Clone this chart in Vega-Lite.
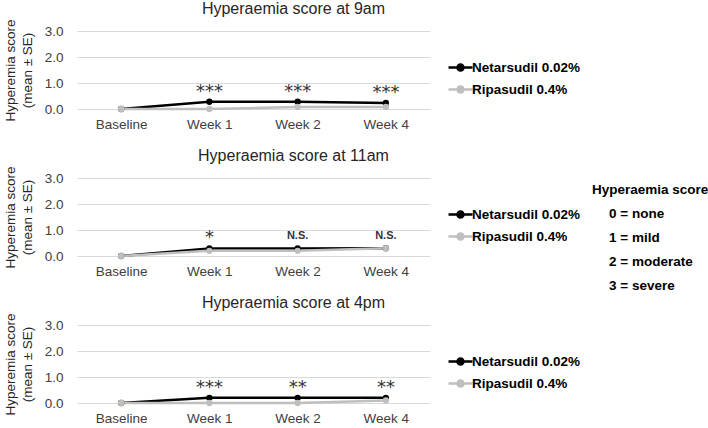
{
  "$schema": "https://vega.github.io/schema/vega-lite/v6.json",
  "padding": {"left": 3, "top": 0, "right": 0, "bottom": 0},
  "background": "white",
  "config": {
    "font": "Liberation Sans",
    "view": {"stroke": null},
    "axis": {"labelFont": "Liberation Sans", "titleFont": "Liberation Sans"},
    "legend": {"labelFont": "Liberation Sans"},
    "title": {"font": "Liberation Sans"}
  },
  "datasets": {
    "scores": [
      {"time": "9am", "visit": "Baseline", "drug": "Netarsudil 0.02%", "score": 0.0, "sig": null},
      {"time": "9am", "visit": "Week 1", "drug": "Netarsudil 0.02%", "score": 0.28, "sig": "***"},
      {"time": "9am", "visit": "Week 2", "drug": "Netarsudil 0.02%", "score": 0.28, "sig": "***"},
      {"time": "9am", "visit": "Week 4", "drug": "Netarsudil 0.02%", "score": 0.23, "sig": "***"},
      {"time": "9am", "visit": "Baseline", "drug": "Ripasudil 0.4%", "score": 0.0, "sig": null},
      {"time": "9am", "visit": "Week 1", "drug": "Ripasudil 0.4%", "score": 0.0, "sig": null},
      {"time": "9am", "visit": "Week 2", "drug": "Ripasudil 0.4%", "score": 0.08, "sig": null},
      {"time": "9am", "visit": "Week 4", "drug": "Ripasudil 0.4%", "score": 0.08, "sig": null},
      {"time": "11am", "visit": "Baseline", "drug": "Netarsudil 0.02%", "score": 0.0, "sig": null},
      {"time": "11am", "visit": "Week 1", "drug": "Netarsudil 0.02%", "score": 0.29, "sig": "*"},
      {"time": "11am", "visit": "Week 2", "drug": "Netarsudil 0.02%", "score": 0.29, "sig": "N.S."},
      {"time": "11am", "visit": "Week 4", "drug": "Netarsudil 0.02%", "score": 0.3, "sig": "N.S."},
      {"time": "11am", "visit": "Baseline", "drug": "Ripasudil 0.4%", "score": 0.0, "sig": null},
      {"time": "11am", "visit": "Week 1", "drug": "Ripasudil 0.4%", "score": 0.2, "sig": null},
      {"time": "11am", "visit": "Week 2", "drug": "Ripasudil 0.4%", "score": 0.2, "sig": null},
      {"time": "11am", "visit": "Week 4", "drug": "Ripasudil 0.4%", "score": 0.3, "sig": null},
      {"time": "4pm", "visit": "Baseline", "drug": "Netarsudil 0.02%", "score": 0.0, "sig": null},
      {"time": "4pm", "visit": "Week 1", "drug": "Netarsudil 0.02%", "score": 0.2, "sig": "***"},
      {"time": "4pm", "visit": "Week 2", "drug": "Netarsudil 0.02%", "score": 0.2, "sig": "**"},
      {"time": "4pm", "visit": "Week 4", "drug": "Netarsudil 0.02%", "score": 0.2, "sig": "**"},
      {"time": "4pm", "visit": "Baseline", "drug": "Ripasudil 0.4%", "score": 0.0, "sig": null},
      {"time": "4pm", "visit": "Week 1", "drug": "Ripasudil 0.4%", "score": 0.0, "sig": null},
      {"time": "4pm", "visit": "Week 2", "drug": "Ripasudil 0.4%", "score": 0.0, "sig": null},
      {"time": "4pm", "visit": "Week 4", "drug": "Ripasudil 0.4%", "score": 0.1, "sig": null}
    ],
    "key": [
      {"row": 0, "text": "Hyperaemia score"},
      {"row": 1, "text": "0 = none"},
      {"row": 2, "text": "1 = mild"},
      {"row": 3, "text": "2 = moderate"},
      {"row": 4, "text": "3 = severe"}
    ]
  },
  "hconcat": [
    {
      "vconcat": [
        {
          "title": {"text": "Hyperaemia score at 9am", "fontSize": 16, "fontWeight": "normal", "color": "#262626", "dx": 40, "dy": -2, "offset": 0},
          "width": 353, "height": 78,
          "data": {"name": "scores"},
          "transform": [{"filter": "datum.time == '9am'"}],
          "encoding": {
            "x": {"field": "visit", "type": "ordinal", "sort": ["Baseline", "Week 1", "Week 2", "Week 4"], "title": null,
                  "axis": {"labelAngle": 0, "domain": false, "ticks": false, "labelPadding": 8, "labelFontSize": 13.5, "labelColor": "#404040"}},
            "y": {"field": "score", "type": "quantitative", "scale": {"domain": [0, 3], "nice": false},
                  "title": ["Hyperemia score", "(mean ± SE)"],
                  "axis": {"values": [0, 1, 2, 3], "format": ".1f", "domain": false, "ticks": false, "gridColor": "#d9d9d9", "labelPadding": 14, "labelFontSize": 13.5, "labelColor": "#404040", "titleFontSize": 13.5, "titleFontWeight": "normal", "titleColor": "#262626", "titleLineHeight": 17, "titlePadding": 10}},
            "color": {"field": "drug", "type": "nominal", "title": null,
                      "scale": {"domain": ["Netarsudil 0.02%", "Ripasudil 0.4%"], "range": ["#000000", "#bfbfbf"]},
                      "legend": {"orient": "none", "legendX": 374, "legendY": 27, "labelFontSize": 13.5, "labelFontWeight": "bold", "labelColor": "#000000", "symbolType": "M-1.5,0L1.5,0M-0.375,0A0.375,0.375 0 1,0 0.375,0A0.375,0.375 0 1,0 -0.375,0Z", "symbolSize": 256, "symbolStrokeWidth": 2.5, "rowPadding": 4, "labelOffset": 2}}
          },
          "layer": [
            {"mark": {"type": "line", "strokeWidth": 2.5}},
            {"mark": {"type": "point", "filled": true, "size": 40, "opacity": 1}},
            {"transform": [{"filter": "datum.sig == '*' || datum.sig == '**' || datum.sig == '***'"}],
             "mark": {"type": "text", "font": "DejaVu Sans", "fontSize": 18, "baseline": "alphabetic", "dy": -5, "color": "#333333"},
             "encoding": {"text": {"field": "sig"}, "color": {"value": "#333333"}}},
            {"transform": [{"filter": "datum.sig == 'N.S.'"}],
             "mark": {"type": "text", "fontSize": 11, "fontWeight": "bold", "baseline": "alphabetic", "dy": -9, "color": "#333333"},
             "encoding": {"text": {"field": "sig"}, "color": {"value": "#333333"}}}
          ]
        },
        {
          "title": {"text": "Hyperaemia score at 11am", "fontSize": 16, "fontWeight": "normal", "color": "#262626", "dx": 40, "dy": -2, "offset": 0},
          "width": 353, "height": 78,
          "data": {"name": "scores"},
          "transform": [{"filter": "datum.time == '11am'"}],
          "encoding": {
            "x": {"field": "visit", "type": "ordinal", "sort": ["Baseline", "Week 1", "Week 2", "Week 4"], "title": null,
                  "axis": {"labelAngle": 0, "domain": false, "ticks": false, "labelPadding": 8, "labelFontSize": 13.5, "labelColor": "#404040"}},
            "y": {"field": "score", "type": "quantitative", "scale": {"domain": [0, 3], "nice": false},
                  "title": ["Hyperemia score", "(mean ± SE)"],
                  "axis": {"values": [0, 1, 2, 3], "format": ".1f", "domain": false, "ticks": false, "gridColor": "#d9d9d9", "labelPadding": 14, "labelFontSize": 13.5, "labelColor": "#404040", "titleFontSize": 13.5, "titleFontWeight": "normal", "titleColor": "#262626", "titleLineHeight": 17, "titlePadding": 10}},
            "color": {"field": "drug", "type": "nominal", "title": null,
                      "scale": {"domain": ["Netarsudil 0.02%", "Ripasudil 0.4%"], "range": ["#000000", "#bfbfbf"]},
                      "legend": {"orient": "none", "legendX": 374, "legendY": 27, "labelFontSize": 13.5, "labelFontWeight": "bold", "labelColor": "#000000", "symbolType": "M-1.5,0L1.5,0M-0.375,0A0.375,0.375 0 1,0 0.375,0A0.375,0.375 0 1,0 -0.375,0Z", "symbolSize": 256, "symbolStrokeWidth": 2.5, "rowPadding": 4, "labelOffset": 2}}
          },
          "layer": [
            {"mark": {"type": "line", "strokeWidth": 2.5}},
            {"mark": {"type": "point", "filled": true, "size": 40, "opacity": 1}},
            {"transform": [{"filter": "datum.sig == '*' || datum.sig == '**' || datum.sig == '***'"}],
             "mark": {"type": "text", "font": "DejaVu Sans", "fontSize": 18, "baseline": "alphabetic", "dy": -5, "color": "#333333"},
             "encoding": {"text": {"field": "sig"}, "color": {"value": "#333333"}}},
            {"transform": [{"filter": "datum.sig == 'N.S.'"}],
             "mark": {"type": "text", "fontSize": 11, "fontWeight": "bold", "baseline": "alphabetic", "dy": -9, "color": "#333333"},
             "encoding": {"text": {"field": "sig"}, "color": {"value": "#333333"}}}
          ]
        },
        {
          "title": {"text": "Hyperaemia score at 4pm", "fontSize": 16, "fontWeight": "normal", "color": "#262626", "dx": 40, "dy": -2, "offset": 0},
          "width": 353, "height": 78,
          "data": {"name": "scores"},
          "transform": [{"filter": "datum.time == '4pm'"}],
          "encoding": {
            "x": {"field": "visit", "type": "ordinal", "sort": ["Baseline", "Week 1", "Week 2", "Week 4"], "title": null,
                  "axis": {"labelAngle": 0, "domain": false, "ticks": false, "labelPadding": 8, "labelFontSize": 13.5, "labelColor": "#404040"}},
            "y": {"field": "score", "type": "quantitative", "scale": {"domain": [0, 3], "nice": false},
                  "title": ["Hyperemia score", "(mean ± SE)"],
                  "axis": {"values": [0, 1, 2, 3], "format": ".1f", "domain": false, "ticks": false, "gridColor": "#d9d9d9", "labelPadding": 14, "labelFontSize": 13.5, "labelColor": "#404040", "titleFontSize": 13.5, "titleFontWeight": "normal", "titleColor": "#262626", "titleLineHeight": 17, "titlePadding": 10}},
            "color": {"field": "drug", "type": "nominal", "title": null,
                      "scale": {"domain": ["Netarsudil 0.02%", "Ripasudil 0.4%"], "range": ["#000000", "#bfbfbf"]},
                      "legend": {"orient": "none", "legendX": 374, "legendY": 27, "labelFontSize": 13.5, "labelFontWeight": "bold", "labelColor": "#000000", "symbolType": "M-1.5,0L1.5,0M-0.375,0A0.375,0.375 0 1,0 0.375,0A0.375,0.375 0 1,0 -0.375,0Z", "symbolSize": 256, "symbolStrokeWidth": 2.5, "rowPadding": 4, "labelOffset": 2}}
          },
          "layer": [
            {"mark": {"type": "line", "strokeWidth": 2.5}},
            {"mark": {"type": "point", "filled": true, "size": 40, "opacity": 1}},
            {"transform": [{"filter": "datum.sig == '*' || datum.sig == '**' || datum.sig == '***'"}],
             "mark": {"type": "text", "font": "DejaVu Sans", "fontSize": 18, "baseline": "alphabetic", "dy": -5, "color": "#333333"},
             "encoding": {"text": {"field": "sig"}, "color": {"value": "#333333"}}},
            {"transform": [{"filter": "datum.sig == 'N.S.'"}],
             "mark": {"type": "text", "fontSize": 11, "fontWeight": "bold", "baseline": "alphabetic", "dy": -9, "color": "#333333"},
             "encoding": {"text": {"field": "sig"}, "color": {"value": "#333333"}}}
          ]
        }
      ],
      "spacing": 16,
      "resolve": {"legend": {"color": "independent"}}
    },
    {
      "width": 2, "height": 408,
      "data": {"name": "key"},
      "encoding": {
        "y": {"field": "row", "type": "quantitative", "scale": {"domain": [-6.625, 10.375], "nice": false, "zero": false, "reverse": true}, "axis": null},
        "text": {"field": "text"}
      },
      "layer": [
        {"transform": [{"filter": "datum.row == 0"}],
         "mark": {"type": "text", "align": "left", "baseline": "middle", "fontSize": 13.5, "fontWeight": "bold", "color": "#000000"}},
        {"transform": [{"filter": "datum.row > 0"}],
         "mark": {"type": "text", "align": "left", "baseline": "middle", "fontSize": 13.5, "fontWeight": "bold", "color": "#000000", "dx": 17}}
      ]
    }
  ],
  "spacing": 10
}
